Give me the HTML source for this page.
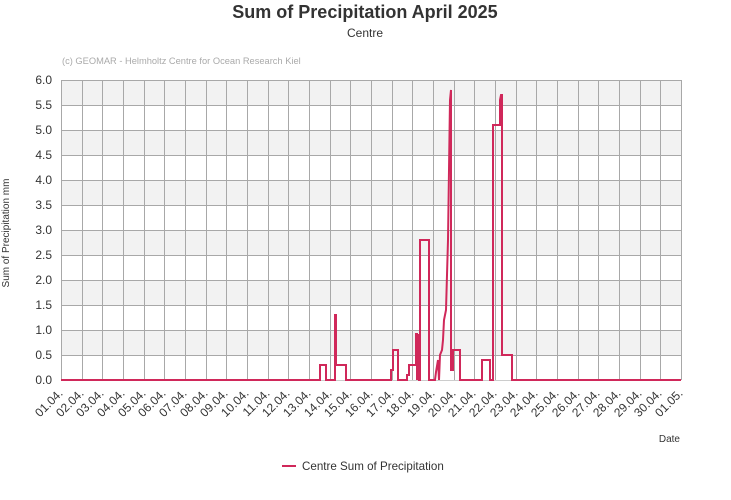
<!DOCTYPE html>
<html><head><style>body{margin:0;background:#fff}svg{display:block;font-family:"Liberation Sans",sans-serif}</style></head><body>
<svg width="731" height="500" xmlns="http://www.w3.org/2000/svg">
<text x="365" y="18" font-size="18" font-weight="bold" fill="#333" text-anchor="middle">Sum of Precipitation April 2025</text>
<text x="365" y="37" font-size="12" fill="#333" text-anchor="middle">Centre</text>
<text x="62" y="64" font-size="9.3" fill="#aaa">(c) GEOMAR - Helmholtz Centre for Ocean Research Kiel</text>
<rect x="61" y="80" width="620" height="25" fill="#f2f2f2"/>
<rect x="61" y="130" width="620" height="25" fill="#f2f2f2"/>
<rect x="61" y="180" width="620" height="25" fill="#f2f2f2"/>
<rect x="61" y="230" width="620" height="25" fill="#f2f2f2"/>
<rect x="61" y="280" width="620" height="25" fill="#f2f2f2"/>
<rect x="61" y="330" width="620" height="25" fill="#f2f2f2"/>
<g stroke="#a8a8a8" stroke-width="1" id="grid"></g>
<g font-size="12" fill="#333" text-anchor="end" id="yl"></g>
<g font-size="12" fill="#333" text-anchor="end" id="xl"></g>
<line x1="61" y1="380.5" x2="681" y2="380.5" stroke="#ccc"/>
<polyline fill="none" stroke="#d0285a" stroke-width="2" points="61,380 320,380 320,365 326,365 326,380 335,380 335,315 336,315 336,365 346,365 346,380 391,380 391,370 393,370 393,350 398,350 398,380 407,380 407,375 409,375 409,365 416,365 416,334 417,334 417,380 418,335 419,335 419,380 420,380 420,240 429,240 429,380 435,380 436,372 438,360 439,380 440,355 442,350 443,340 444,320 446,310 447,275 448,240 449,170 450,100 451,90 451,370 453,370 453,350 460,350 460,380 482,380 482,360 490,360 490,380 493,380 493,125 500,125 500,100 501,95 502,95 502,355 512,355 512,380 681,380"/>
<text x="6" y="230" font-size="10" fill="#333" text-anchor="middle" transform="rotate(-90 9 230)">Sum of Precipitation mm</text>
<text x="680" y="442" font-size="10" fill="#333" text-anchor="end">Date</text>
<line x1="282" y1="466" x2="296" y2="466" stroke="#d0285a" stroke-width="2"/>
<text x="302" y="470" font-size="11.6" fill="#333">Centre Sum of Precipitation</text>
<script>
var ns="http://www.w3.org/2000/svg",g=document.getElementById('grid'),yl=document.getElementById('yl'),xl=document.getElementById('xl');
function el(p,t,a,tx){var e=document.createElementNS(ns,t);for(var k in a)e.setAttribute(k,a[k]);if(tx)e.textContent=tx;p.appendChild(e);}
for(var i=0;i<=12;i++){var y=80+i*25;if(i<12)el(g,'line',{x1:61,x2:681,y1:y+.5,y2:y+.5});el(yl,'text',{x:52,y:y+4},(6-i*0.5).toFixed(1));}
for(var d=0;d<=30;d++){var x=Math.round(61+d*620/30)+.5;el(g,'line',{x1:x,x2:x,y1:80,y2:380});
var lab=d<30?((d+1<10?'0':'')+(d+1)+'.04.'):'01.05.';el(xl,'text',{x:x+2,y:394,transform:'rotate(-45 '+(x+2)+' 394)'},lab);}
</script>
</svg>
</body></html>
